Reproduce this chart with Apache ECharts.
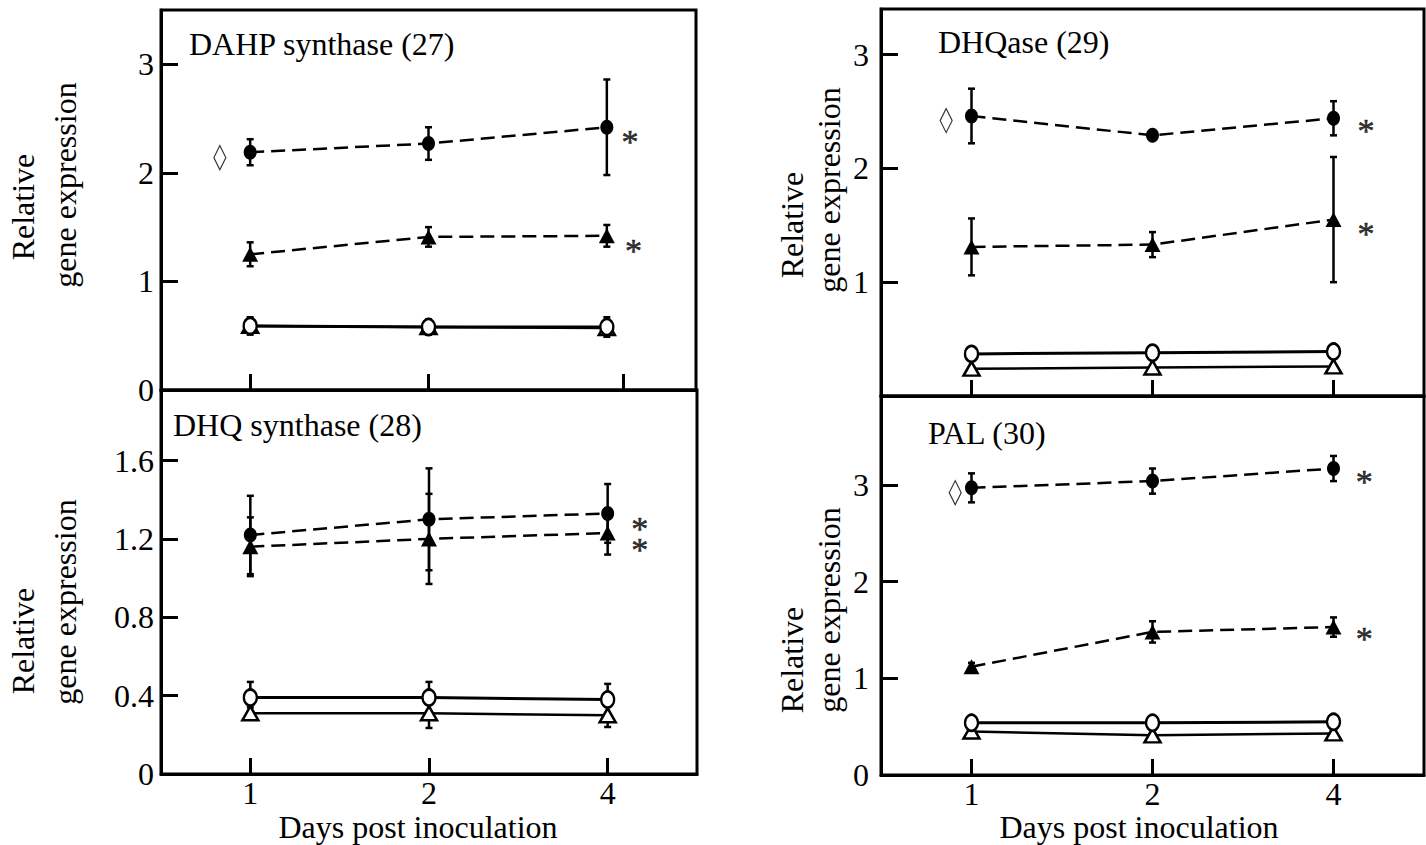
<!DOCTYPE html>
<html>
<head>
<meta charset="utf-8">
<script src="https://cdn.jsdelivr.net/npm/echarts@6/dist/echarts.min.js"></script>
<style>
  html, body { margin: 0; padding: 0; background: #fff; }
  #chart { width: 1426px; height: 845px; }
</style>
</head>
<body>
<div id="chart"></div>
<script>
// Sampling days (plotted at evenly spaced positions 0, 1, 2)
const dayLabels = ['1', '2', '4'];
const dayPos = [0, 1, 2];

// Panel titles
const titleDahp = 'DAHP synthase (27)';
const titleDhqs = 'DHQ synthase (28)';
const titleDhqase = 'DHQase (29)';
const titlePal = 'PAL (30)';

// DAHP synthase (27): means and error-bar half widths
const dahpFilledCircle = [2.19, 2.27, 2.42];
const dahpFilledCircleErr = [0.12, 0.15, 0.44];
const dahpFilledTriangle = [1.25, 1.41, 1.42];
const dahpFilledTriangleErr = [0.11, 0.09, 0.10];
const dahpOpenCircle = [0.59, 0.58, 0.58];
const dahpOpenCircleErr = [0.08, 0.07, 0.09];
const dahpOpenTriangle = [0.59, 0.58, 0.57];
const dahpOpenTriangleErr = [0.05, 0.05, 0.05];

// DHQ synthase (28)
const dhqsFilledCircle = [1.22, 1.30, 1.33];
const dhqsFilledCircleErr = [0.20, 0.26, 0.15];
const dhqsFilledTriangle = [1.16, 1.20, 1.23];
const dhqsFilledTriangleErr = [0.15, 0.23, 0.11];
const dhqsOpenCircle = [0.39, 0.39, 0.38];
const dhqsOpenCircleErr = [0.08, 0.08, 0.08];
const dhqsOpenTriangle = [0.31, 0.31, 0.30];
const dhqsOpenTriangleErr = [0.03, 0.075, 0.06];

// DHQase (29)
const dhqaseFilledCircle = [2.46, 2.29, 2.44];
const dhqaseFilledCircleErr = [0.24, 0.03, 0.15];
const dhqaseFilledTriangle = [1.31, 1.33, 1.55];
const dhqaseFilledTriangleErr = [0.25, 0.11, 0.55];
const dhqaseOpenCircle = [0.37, 0.38, 0.39];
const dhqaseOpenCircleErr = [0.02, 0.02, 0.02];
const dhqaseOpenTriangle = [0.24, 0.25, 0.26];
const dhqaseOpenTriangleErr = [0.02, 0.02, 0.02];

// PAL (30)
const palFilledCircle = [2.97, 3.04, 3.17];
const palFilledCircleErr = [0.15, 0.13, 0.13];
const palFilledTriangle = [1.12, 1.48, 1.53];
const palFilledTriangleErr = [0.04, 0.11, 0.10];
const palOpenCircle = [0.54, 0.54, 0.55];
const palOpenCircleErr = [0.02, 0.02, 0.03];
const palOpenTriangle = [0.45, 0.41, 0.43];
const palOpenTriangleErr = [0.02, 0.02, 0.02];

// Diamond marks [x position, value] and significance stars [[x, value], ...]
const dahpDiamond = [-0.17, 2.14];
const dhqaseDiamond = [-0.14, 2.42];
const palDiamond = [-0.09, 2.92];
const dahpStars = [[2.13, 2.35], [2.15, 1.35]];
const dhqsStars = [[2.18, 1.29], [2.18, 1.18]];
const dhqaseStars = [[2.18, 2.39], [2.18, 1.49]];
const palStars = [[2.17, 3.11], [2.17, 1.48]];

// Axis ticks and labels
const dahpYTicks = [1, 2, 3];
const dahpYLabels = [0, 1, 2, 3];
const dhqsYTicks = [0.4, 0.8, 1.2, 1.6];
const dhqsYLabels = [0, 0.4, 0.8, 1.2, 1.6];
const dhqaseYTicks = [1, 2, 3];
const dhqaseYLabels = [1, 2, 3];
const palYTicks = [1, 2, 3];
const palYLabels = [0, 1, 2, 3];
const dahpXTicks = [0, 1, 2.09];
const commonXTicks = [0, 1, 2];

const FONT = '"Liberation Serif", "Times New Roman", serif';
const FS = 32;

function pts(values) {
  return values.map((v, i) => [dayPos[i], v]);
}
function bars(values, errs) {
  return values.map((v, i) => [dayPos[i], v - errs[i], v + errs[i]]);
}

function errorBarSeries(idx, data) {
  return {
    type: 'custom', xAxisIndex: idx, yAxisIndex: idx, z: 1, silent: true,
    encode: { x: 0, y: [1, 2] },
    data: data,
    renderItem(params, api) {
      const x = api.value(0);
      const lo = api.coord([x, api.value(1)]);
      const hi = api.coord([x, api.value(2)]);
      const cw = 3.5;
      const style = { stroke: '#000', lineWidth: 2.5 };
      return {
        type: 'group',
        children: [
          { type: 'line', shape: { x1: lo[0], y1: lo[1], x2: hi[0], y2: hi[1] }, style },
          { type: 'line', shape: { x1: lo[0] - cw, y1: lo[1], x2: lo[0] + cw, y2: lo[1] }, style },
          { type: 'line', shape: { x1: hi[0] - cw, y1: hi[1], x2: hi[0] + cw, y2: hi[1] }, style }
        ]
      };
    }
  };
}

function lineSeries(idx, values, opts) {
  return {
    type: 'line', xAxisIndex: idx, yAxisIndex: idx, silent: true, z: opts.z,
    data: pts(values),
    symbol: opts.symbol, symbolSize: opts.size,
    showAllSymbol: true,
    itemStyle: { color: opts.fill, borderColor: '#000', borderWidth: opts.fill === '#fff' ? 2.5 : 0, opacity: 1 },
    lineStyle: { color: '#000', width: opts.lineWidth, type: opts.dashed ? [14, 7] : 'solid' },
    emphasis: { disabled: true }
  };
}

function yLabelText(v) {
  if (v === 0) return '0';
  return Number.isInteger(v) ? String(v) : v.toFixed(1);
}

const layouts = [
  { left: 161, top: 10, width: 535, height: 380, yMax: 3.5, showX: false, labelMargin: 7 },
  { left: 161, top: 390, width: 536, height: 384, yMax: 1.96, showX: true, labelMargin: 7 },
  { left: 881, top: 9, width: 543, height: 387, yMax: 3.4, showX: false, labelMargin: 12 },
  { left: 881, top: 396, width: 543, height: 379, yMax: 3.92, showX: true, labelMargin: 12 }
];

const panelData = [
  { fc: dahpFilledCircle, fce: dahpFilledCircleErr, ft: dahpFilledTriangle, fte: dahpFilledTriangleErr,
    oc: dahpOpenCircle, oce: dahpOpenCircleErr, ot: dahpOpenTriangle, ote: dahpOpenTriangleErr,
    diamond: dahpDiamond, stars: dahpStars, yTicks: dahpYTicks, yLabels: dahpYLabels, xTicks: dahpXTicks },
  { fc: dhqsFilledCircle, fce: dhqsFilledCircleErr, ft: dhqsFilledTriangle, fte: dhqsFilledTriangleErr,
    oc: dhqsOpenCircle, oce: dhqsOpenCircleErr, ot: dhqsOpenTriangle, ote: dhqsOpenTriangleErr,
    diamond: null, stars: dhqsStars, yTicks: dhqsYTicks, yLabels: dhqsYLabels, xTicks: commonXTicks },
  { fc: dhqaseFilledCircle, fce: dhqaseFilledCircleErr, ft: dhqaseFilledTriangle, fte: dhqaseFilledTriangleErr,
    oc: dhqaseOpenCircle, oce: dhqaseOpenCircleErr, ot: dhqaseOpenTriangle, ote: dhqaseOpenTriangleErr,
    diamond: dhqaseDiamond, stars: dhqaseStars, yTicks: dhqaseYTicks, yLabels: dhqaseYLabels, xTicks: commonXTicks },
  { fc: palFilledCircle, fce: palFilledCircleErr, ft: palFilledTriangle, fte: palFilledTriangleErr,
    oc: palOpenCircle, oce: palOpenCircleErr, ot: palOpenTriangle, ote: palOpenTriangleErr,
    diamond: palDiamond, stars: palStars, yTicks: palYTicks, yLabels: palYLabels, xTicks: commonXTicks }
];

const grids = [], xAxes = [], yAxes = [], series = [];

layouts.forEach((L, i) => {
  const D = panelData[i];
  grids.push({
    left: L.left, top: L.top, width: L.width, height: L.height,
    show: true, borderColor: '#000', borderWidth: 3, backgroundColor: 'transparent',
    containLabel: false
  });
  xAxes.push({
    type: 'value', gridIndex: i, min: -0.5, max: 2.5,
    axisLine: { show: true, onZero: false, lineStyle: { color: '#000', width: 3 } },
    axisTick: { show: true, inside: true, length: 16, customValues: D.xTicks, lineStyle: { color: '#000', width: 3 } },
    axisLabel: {
      show: L.showX, customValues: dayPos, margin: 3,
      formatter: v => dayLabels[Math.round(v)],
      color: '#000', fontSize: FS, fontFamily: FONT
    },
    splitLine: { show: false }
  });
  yAxes.push({
    type: 'value', gridIndex: i, min: 0, max: L.yMax,
    axisLine: { show: true, onZero: false, lineStyle: { color: '#000', width: 3 } },
    axisTick: { show: true, inside: true, length: 17, customValues: D.yTicks, lineStyle: { color: '#000', width: 3 } },
    axisLabel: {
      show: true, customValues: D.yLabels, margin: L.labelMargin,
      formatter: yLabelText, color: '#000', fontSize: FS, fontFamily: FONT
    },
    splitLine: { show: false }
  });

  // error bars underneath markers
  series.push(errorBarSeries(i, [].concat(
    bars(D.fc, D.fce), bars(D.ft, D.fte), bars(D.oc, D.oce), bars(D.ot, D.ote)
  )));
  series.push(lineSeries(i, D.ot, { symbol: 'triangle', size: [16, 14], fill: '#fff', lineWidth: 2.5, dashed: false, z: 2 }));
  series.push(lineSeries(i, D.oc, { symbol: 'circle', size: [13, 16], fill: '#fff', lineWidth: 3, dashed: false, z: 3 }));
  series.push(lineSeries(i, D.ft, { symbol: 'triangle', size: [16, 15], fill: '#000', lineWidth: 2.5, dashed: true, z: 4 }));
  series.push(lineSeries(i, D.fc, { symbol: 'circle', size: [13, 15], fill: '#000', lineWidth: 2.5, dashed: true, z: 5 }));

  if (D.diamond) {
    series.push({
      type: 'scatter', xAxisIndex: i, yAxisIndex: i, silent: true, z: 5,
      data: [D.diamond], symbol: 'diamond', symbolSize: [12, 24],
      itemStyle: { color: '#fff', borderColor: '#000', borderWidth: 1.3 }
    });
  }
  series.push({
    type: 'scatter', xAxisIndex: i, yAxisIndex: i, silent: true, z: 5,
    data: D.stars, symbolSize: 1,
    itemStyle: { color: 'rgba(0,0,0,0)' },
    label: {
      show: true, position: 'inside', formatter: '*', offset: [0, 7],
      color: '#000', fontSize: 34, lineHeight: 18, fontFamily: FONT,
      textBorderColor: '#000', textBorderWidth: 0.6
    }
  });
});

const textStyle = { fill: '#000', fontSize: FS, fontFamily: FONT };
function label(text, x, y, rotate, align) {
  return {
    type: 'text', x: x, y: y, rotation: rotate ? Math.PI / 2 : 0, silent: true,
    style: Object.assign({ text: text, align: align || 'left', verticalAlign: 'middle' }, textStyle)
  };
}

const graphics = [
  label(titleDahp, 189, 44),
  label(titleDhqs, 173, 425),
  label(titleDhqase, 938, 42),
  label(titlePal, 928, 433),
  label('Relative', 23, 207, true, 'center'),
  label('gene expression', 65, 185, true, 'center'),
  label('Relative', 23, 641, true, 'center'),
  label('gene expression', 65, 602, true, 'center'),
  label('Relative', 792, 225, true, 'center'),
  label('gene expression', 829, 190, true, 'center'),
  label('Relative', 792, 660, true, 'center'),
  label('gene expression', 829, 610, true, 'center'),
  label('Days post inoculation', 418, 827, false, 'center'),
  label('Days post inoculation', 1139, 827, false, 'center')
];

const chart = echarts.init(document.getElementById('chart'), null, { renderer: 'svg' });
chart.setOption({
  animation: false,
  backgroundColor: '#fff',
  grid: grids,
  xAxis: xAxes,
  yAxis: yAxes,
  series: series,
  graphic: graphics
});
</script>
</body>
</html>
